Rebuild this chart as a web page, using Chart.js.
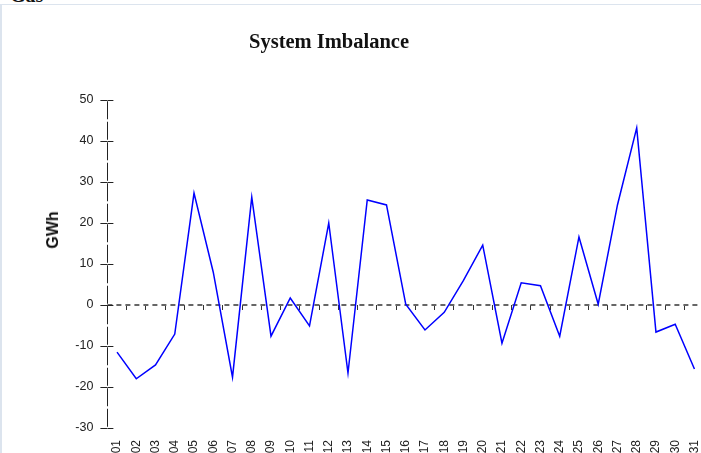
<!DOCTYPE html>
<html>
<head>
<meta charset="utf-8">
<script src="https://cdn.jsdelivr.net/npm/chart.js@4.4.1/dist/chart.umd.min.js"></script>
<style>
  html, body { margin: 0; padding: 0; background: #fff; overflow: hidden; width: 701px; height: 453px; }
  #frame { position: absolute; left: 0; top: 4px; width: 760px; height: 500px; border-top: 1px solid #dce4ee; border-left: 2px solid #dce4ee; }
  #gas { position: absolute; left: 10px; top: -15px; font: bold 20px 'Liberation Serif', serif; line-height: 20px; color: #111; }
  #wrap { position: absolute; left: 0; top: 0; width: 721px; height: 470px; }
  #title { position: absolute; left: 249px; top: 30px; font: bold 20.5px 'Liberation Serif', serif; color: #111; white-space: nowrap; }
  #ytitle { position: absolute; left: 53px; top: 230px; transform: translate(-50%, -50%) rotate(-90deg); font: bold 16px 'Liberation Sans', Arial, sans-serif; color: #111; white-space: nowrap; }
</style>
</head>
<body>
<div id="frame"></div>
<div id="gas">Gas</div>
<div id="wrap"><canvas id="c" width="721" height="470" style="width:721px;height:470px"></canvas></div>
<div id="title">System Imbalance</div>
<div id="ytitle">GWh</div>
<script>
const days = ['01','02','03','04','05','06','07','08','09','10','11','12','13','14','15','16','17','18','19','20','21','22','23','24','25','26','27','28','29','30','31'];
const imbalance = [-11.5, -18, -14.6, -7.1, 27.3, 8, -17.6, 26.3, -7.6, 1.7, -5.1, 20, -16.6, 25.6, 24.4, 0.2, -6.1, -1.8, 6, 14.6, -9.3, 5.4, 4.7, -7.6, 16.6, 0.2, 24.4, 43.2, -6.6, -4.7, -15.6];
const yMin = -30, yMax = 50, yStep = 10;

const axisLines = {
  id: 'axisLines',
  beforeDatasetsDraw(chart) {
    const y = chart.scales.y;
    const ca = chart.chartArea;
    const ctx = chart.ctx;
    ctx.save();
    // dashed zero line
    const py0 = Math.round(y.getPixelForValue(0));
    ctx.strokeStyle = '#666';
    ctx.lineWidth = 2;
    ctx.setLineDash([5, 4]);
    ctx.beginPath();
    ctx.moveTo(ca.left, py0);
    ctx.lineTo(ca.right, py0);
    ctx.stroke();
    // y axis line with small gaps at the half steps
    const px = Math.round(ca.left) + 0.5;
    const half = Math.abs(y.getPixelForValue(yStep / 2) - y.getPixelForValue(0));
    ctx.strokeStyle = '#222';
    ctx.lineWidth = 1;
    ctx.setLineDash([half - 2.5, 2.5]);
    ctx.lineDashOffset = -1.25;
    ctx.beginPath();
    ctx.moveTo(px, ca.top);
    ctx.lineTo(px, ca.bottom);
    ctx.stroke();
    ctx.setLineDash([]);
    // inner half of y major ticks
    y.ticks.forEach(t => {
      const py = Math.round(y.getPixelForValue(t.value)) + 0.5;
      ctx.beginPath();
      ctx.moveTo(ca.left, py);
      ctx.lineTo(ca.left + 6, py);
      ctx.stroke();
    });
    ctx.restore();
  }
};

new Chart(document.getElementById('c'), {
  type: 'line',
  data: {
    labels: days,
    datasets: [{
      data: imbalance,
      borderColor: '#0000ff',
      borderWidth: 1.5,
      pointRadius: 0,
      tension: 0,
      fill: false
    }]
  },
  options: {
    responsive: false,
    animation: false,
    devicePixelRatio: 1,
    layout: { padding: { left: 0, right: 9.4, top: 100, bottom: 12 } },
    plugins: { legend: { display: false }, title: { display: false }, tooltip: { enabled: false } },
    scales: {
      x: {
        type: 'category',
        offset: true,
        position: 'bottom',
        grid: { display: false, drawTicks: false },
        border: { display: false },
        ticks: { autoSkip: false, maxRotation: 90, minRotation: 90, padding: 12, color: '#222', font: { family: "'Liberation Sans', Arial, sans-serif", size: 12 } },
        afterFit(s) { s.height = 30; }
      },
      x2: {
        type: 'category',
        offset: true,
        position: { y: 0 },
        grid: { drawOnChartArea: false, drawTicks: true, tickLength: 5, offset: true, color: '#333', lineWidth: 1 },
        border: { display: false },
        ticks: { display: false }
      },
      y: {
        min: yMin,
        max: yMax,
        ticks: { stepSize: yStep, padding: 7, color: '#222', font: { family: "'Liberation Sans', Arial, sans-serif", size: 12.5 } },
        grid: { drawOnChartArea: false, drawTicks: true, tickLength: 7, color: '#222', lineWidth: 1 },
        border: { display: false },
        afterFit(s) { s.width = 107.4; }
      }
    }
  },
  plugins: [axisLines]
});
</script>
</body>
</html>
